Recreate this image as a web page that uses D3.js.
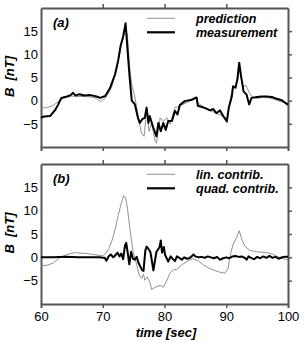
<!DOCTYPE html>
<html>
<head>
<meta charset="utf-8">
<script src="https://cdn.jsdelivr.net/npm/d3@7"></script>
<style>
  body { margin: 0; background: #fff; }
  text { font-family: "Liberation Sans", Arial, sans-serif; }
</style>
</head>
<body>
<svg id="chart" width="304" height="343"></svg>
<script>
// ---- data ----
var xTicks = [60, 70, 80, 90, 100];
var yTicks = [-5, 0, 5, 10, 15];

// panel (a)
var predT = [60, 61, 62, 63, 64, 65, 66, 67, 68, 69, 69.6, 70, 70.5, 71, 71.5, 72, 72.5, 72.9, 73.3, 73.7, 74.0, 74.4, 74.8, 75.1, 75.5, 75.9, 76.3, 76.7, 77.1, 77.5, 77.9, 78.5, 78.7, 79.3, 79.8, 80.4, 80.9, 81.7, 82.2, 83, 84, 85, 85.5, 86.5, 87.5, 88.5, 89.5, 90.1, 90.5, 91, 91.5, 91.9, 92.1, 92.4, 92.8, 93.2, 93.7, 94.2, 95, 96, 97, 98, 99, 100];
var predB = [-1.6, -1.5, -1.0, 0.0, 0.7, 1.0, 0.9, 0.9, 0.8, 0.5, -0.2, 0.1, 0.7, 1.7, 3.2, 5.5, 8.5, 11.5, 13.5, 15.8, 14.0, 6.5, 2.8, 1.4, -1.5, -4.8, -7.0, -7.7, -2.2, -6.6, -4.8, -8.8, -9.2, -3.7, -4.4, -3.7, -5.1, -1.5, -1.3, -0.8, -0.2, 0.6, -0.6, -1.5, -2.2, -2.8, -3.3, -3.9, -1.0, 2.5, 3.2, 4.8, 7.0, 5.0, 3.0, 3.3, 1.8, 0.8, 0.5, 0.7, 0.6, 0.2, -0.3, -0.6];

var measT = [60, 60.5, 61.5, 62.3, 62.8, 63.3, 64.2, 64.8, 65.2, 65.6, 66.2, 67, 68, 69, 69.6, 70.4, 71.2, 72.0, 72.5, 72.9, 73.3, 73.7, 74.1, 74.4, 74.7, 75.2, 75.7, 76.0, 76.4, 76.8, 77.1, 77.4, 77.6, 78.2, 78.7, 79.0, 79.4, 79.8, 80.2, 80.6, 81.2, 81.7, 82.1, 82.5, 83.3, 84.4, 85.2, 85.4, 86.6, 87.4, 87.9, 88.4, 89.0, 89.5, 90.1, 90.4, 90.9, 91.1, 91.5, 91.8, 92.1, 92.4, 92.8, 93.3, 93.7, 94.1, 95, 95.7, 96.5, 97.4, 98.2, 99, 100];
var measB = [-3.7, -3.4, -3.3, -2.0, -0.8, 0.6, 0.9, 1.2, 1.7, 1.1, 1.4, 1.1, 1.2, 0.9, 0.6, 1.0, 2.8, 5.7, 8.7, 11.9, 13.8, 16.7, 9.4, 4.3, 0.0, -0.8, -3.7, -4.8, -4.0, -3.7, -1.5, -4.8, -3.3, -5.9, -7.7, -4.8, -6.6, -4.8, -6.3, -4.4, -4.4, -2.2, -3.0, -0.9, -0.1, 0.2, 0.7, -1.1, -1.6, -2.1, -1.8, -2.7, -2.1, -3.3, -4.5, -1.6, 0.9, 3.1, 2.8, 4.6, 8.2, 5.3, 2.0, 1.3, -0.8, 0.6, 0.8, 0.9, 0.9, 0.8, 0.4, 0.1, -0.9];

// panel (b)
var linT = [60, 61, 62, 63, 64, 65, 65.5, 66.5, 67.5, 68.5, 69.5, 70, 70.5, 71, 71.5, 72, 72.5, 73, 73.4, 73.7, 74, 74.4, 74.9, 75.5, 75.9, 76.3, 76.6, 76.8, 77.2, 77.7, 77.9, 78.5, 79.3, 79.8, 80.4, 80.9, 81.4, 82.0, 82.8, 83.9, 84.6, 85.5, 86.3, 87.0, 87.9, 89.0, 89.8, 90.3, 90.6, 91.1, 91.7, 92.1, 92.5, 93.0, 93.8, 94.9, 96.5, 97.5, 98.2, 99, 99.8, 100];
var linB = [-1.8, -1.7, -1.2, -0.1, 0.5, 0.9, 1.0, 0.9, 0.8, 0.6, 0.4, 0.3, 0.9, 1.9, 3.6, 6.0, 9.0, 11.6, 13.2, 12.8, 10.5, 6.1, 1.3, -1.6, -3.8, -4.5, -3.6, -4.9, -4.2, -5.6, -6.9, -6.4, -6.0, -6.4, -4.9, -3.4, -2.7, -2.6, -1.6, -0.7, -0.3, -0.8, -1.6, -2.2, -2.7, -3.2, -3.4, -2.3, 0.2, 2.8, 4.3, 5.7, 3.9, 2.4, 1.5, 1.2, 1.0, 0.7, 0.2, -0.2, -0.5, -0.4];

var quadT = [60, 62, 64, 66, 68, 69.5, 70, 70.3, 70.6, 71, 71.3, 71.7, 72, 72.4, 72.7, 73.0, 73.3, 73.6, 73.8, 74.1, 74.3, 74.6, 74.9, 75.2, 75.5, 75.8, 76.1, 76.4, 76.6, 76.9, 77.1, 77.4, 77.7, 77.9, 78.2, 78.4, 78.7, 79.0, 79.2, 79.4, 79.6, 79.9, 80.1, 80.4, 80.6, 81.0, 81.3, 81.7, 82.0, 82.4, 82.8, 83.2, 83.6, 84.0, 84.4, 84.7, 85.0, 85.5, 86, 86.5, 87, 87.5, 88, 88.5, 89, 89.5, 90, 90.5, 91, 91.5, 92, 92.5, 93, 93.3, 93.6, 94, 94.5, 95, 95.5, 96, 96.5, 97, 97.5, 98, 98.5, 99, 99.5, 100];
var quadB = [0, 0, 0.1, 0, 0, 0, -0.1, -0.1, -0.7, 0.3, 0.6, 0, 0.4, 1.0, 0.2, 0.8, -0.4, 2.5, 3.1, 0.5, -1.5, 1.2, -0.3, -0.5, 0.1, -1.2, -2.0, -2.8, -2.9, 1.5, 2.3, 1.8, 1.2, -0.3, -2.8, -1.2, 1.2, 1.8, 2.2, 3.6, 1.0, 2.2, 0.5, -0.3, -0.9, 0.2, -0.3, -0.8, 0.2, -0.1, -0.5, 0, -0.3, -0.2, 0.2, 0.6, 0.2, 0, 0.1, -0.1, 0.2, 0, -0.2, 0.1, -0.5, -0.2, 0, -0.2, 0.2, 0.3, 0.1, 0.2, -0.1, -0.5, 0.2, -0.1, -0.4, 0.1, -0.2, 0.2, -0.1, 0.3, -0.1, 0.1, -0.3, 0, 0.1, 0.1];

// ---- drawing ----
var svg = d3.select("#chart");
var frameColor = "#555";

var x = d3.scaleLinear().domain([60, 100]).range([41, 288]);

var panels = [
  { tag: "(a)", top: 8, bottom: 147, labels: ["prediction", "measurement"],
    thin: [predT, predB], thick: [measT, measB], xLabels: false },
  { tag: "(b)", top: 164, bottom: 304, labels: ["lin. contrib.", "quad. contrib."],
    thin: [linT, linB], thick: [quadT, quadB], xLabels: true }
];

function minus(d) { return d < 0 ? "\u2212" + (-d) : "" + d; }

panels.forEach(function(p) {
  var y = d3.scaleLinear().domain([-10, 20]).range([p.bottom, p.top]);
  var g = svg.append("g");

  // axes on all four sides
  g.append("g").attr("transform", "translate(41,0)")
    .call(d3.axisLeft(y).tickValues(yTicks).tickSize(0).tickPadding(3).tickFormat(minus));
  g.append("g").attr("transform", "translate(288,0)")
    .call(d3.axisRight(y).tickValues(yTicks).tickSize(4).tickSizeOuter(0).tickFormat(""));
  g.append("g").attr("transform", "translate(0," + p.top + ")")
    .call(d3.axisTop(x).tickValues([70, 80, 90]).tickSize(4).tickSizeOuter(0).tickFormat(""));
  var bx = d3.axisBottom(x).tickSizeOuter(0).tickSize(4);
  if (p.xLabels) bx.tickValues(xTicks).tickPadding(3.5);
  else bx.tickValues([70, 80, 90]).tickFormat("");
  g.append("g").attr("transform", "translate(0," + p.bottom + ")").call(bx);

  g.selectAll(".domain").attr("stroke", frameColor).attr("stroke-width", 2);
  g.selectAll(".tick line").attr("stroke", frameColor).attr("stroke-width", 1.5);
  g.selectAll(".tick text").attr("fill", "#000").style("font-size", "13px")
    .style("font-family", "'Liberation Sans', Arial, sans-serif");
  // hide the end ticks at the corners
  g.selectAll(".tick line").filter(function(d) { return d === 60 || d === 100; }).remove();

  var line = d3.line().x(function(d) { return x(d[0]); }).y(function(d) { return y(d[1]); });

  g.append("path").datum(d3.zip(p.thin[0], p.thin[1]))
    .attr("d", line).attr("fill", "none").attr("stroke", "#858585").attr("stroke-width", 0.9);
  g.append("path").datum(d3.zip(p.thick[0], p.thick[1]))
    .attr("d", line).attr("fill", "none").attr("stroke", "#000").attr("stroke-width", 2)
    .attr("stroke-linejoin", "round");

  // panel tag
  g.append("text").attr("x", 53).attr("y", p.top + 19)
    .style("font-size", "13px").style("font-weight", "bold").style("font-style", "italic")
    .text(p.tag);

  // legend
  [0, 1].forEach(function(i) {
    var ly = p.top + 10.3 + i * 14;
    g.append("line").attr("x1", 147).attr("x2", 175).attr("y1", ly).attr("y2", ly)
      .attr("stroke", i === 0 ? "#858585" : "#000").attr("stroke-width", i === 0 ? 0.9 : 2.2);
    g.append("text").attr("x", 196).attr("y", ly + 4.3)
      .style("font-size", "12.5px").style("font-weight", "bold").style("font-style", "italic")
      .text(p.labels[i]);
  });

  // y label
  g.append("text")
    .attr("transform", "translate(14," + ((p.top + p.bottom) / 2 - 1) + ")rotate(-90)")
    .attr("text-anchor", "middle")
    .style("font-size", "13px").style("font-weight", "bold").style("font-style", "italic")
    .attr("xml:space", "preserve")
    .text("B  [nT]");
});

// x label
svg.append("text").attr("x", 166).attr("y", 337).attr("text-anchor", "middle")
  .style("font-size", "13px").style("font-weight", "bold").style("font-style", "italic")
  .text("time [sec]");
</script>
</body>
</html>
